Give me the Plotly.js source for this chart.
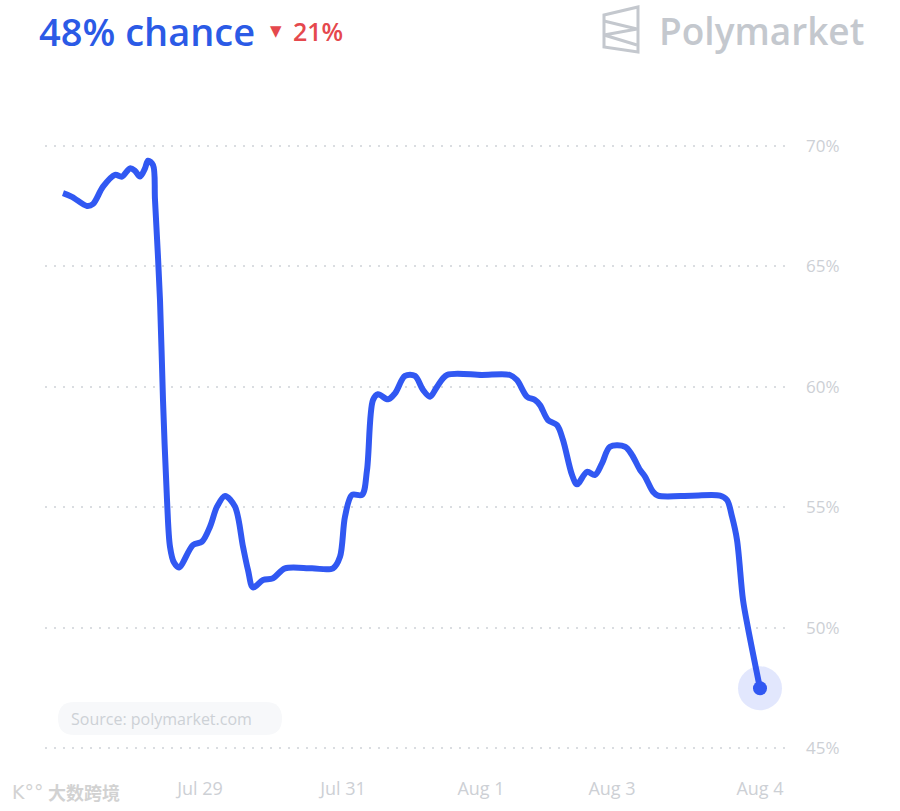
<!DOCTYPE html>
<html>
<head>
<meta charset="utf-8">
<script src="https://cdn.plot.ly/plotly-3.0.1.min.js"></script>
<style>
html,body{margin:0;padding:0;background:#fff;}
#chart{width:900px;height:811px;}
</style>
</head>
<body>
<div id="chart"></div>
<script>
// ---- data ----
// t: time position along the series (arbitrary units), v: chance in %
const timePos = [1, 10, 25, 31, 41, 53, 60, 68, 73, 78, 83, 86, 91, 93, 98, 101, 105, 108, 112, 117,
  131, 140, 148, 155, 163, 173, 181, 186, 191, 201, 211, 223, 250, 271, 278, 283, 290, 300, 305, 311,
  316, 326, 333, 343, 353, 361, 368, 375, 385, 420, 448, 455, 465, 473, 478, 486, 495, 501, 510, 515,
  525, 533, 540, 548, 563, 570, 578, 583, 591, 596, 630, 658, 665, 670, 675, 681, 686, 698];
const chance = [68.04, 67.89, 67.51, 67.59, 68.31, 68.80, 68.73, 69.07, 68.97, 68.73, 69.07, 69.39, 69.21, 67.76, 63.60, 59.45, 55.30, 53.36, 52.70, 52.50,
  53.43, 53.57, 54.19, 55.02, 55.47, 55.02, 53.36, 52.39, 51.67, 51.98, 52.05, 52.46, 52.46, 52.46, 52.94, 54.61, 55.51, 55.51, 56.54, 59.45,
  59.69, 59.48, 59.73, 60.45, 60.45, 59.87, 59.59, 60.00, 60.49, 60.49, 60.49, 60.28, 59.59, 59.45, 59.24, 58.62, 58.41, 57.79, 56.34, 55.95,
  56.47, 56.34, 56.82, 57.51, 57.51, 57.17, 56.55, 56.27, 55.64, 55.48, 55.48, 55.48, 55.30, 54.61, 53.64, 51.15, 49.98, 47.48];
const xTickPos = [138, 281, 419, 550, 698];
const xTickLabels = ["Jul 29", "Jul 31", "Aug 1", "Aug 3", "Aug 4"];
const yTickVals = [45, 50, 55, 60, 65, 70];
const yTickLabels = ["45%", "50%", "55%", "60%", "65%", "70%"];
const headline = "48% chance";
const changeText = "21%";
const brand = "Polymarket";
const sourceText = "Source: polymarket.com";
const watermark = "大数跨境";

// ---- layout helpers (pixel -> paper) ----
const PL = 45, PR = 785, PT = 144, PB = 750;
const fx = px => (px - PL) / (PR - PL);
const fy = py => (PB - py) / (PB - PT);
const P = (x, y) => fx(x).toFixed(5) + "," + fy(y).toFixed(5);

const blue = "#3158F2";
const lastX = timePos[timePos.length - 1];
const lastY = chance[chance.length - 1];

const traces = [
  {x: timePos, y: chance, type: "scatter", mode: "lines",
   line: {color: blue, width: 6, shape: "spline", smoothing: 0.9},
   hoverinfo: "skip"},
  {x: [lastX], y: [lastY], type: "scatter", mode: "markers",
   marker: {size: 44, color: "rgba(49,88,242,0.14)"}, hoverinfo: "skip"},
  {x: [lastX], y: [lastY], type: "scatter", mode: "markers",
   marker: {size: 14, color: blue}, hoverinfo: "skip"}
];

// pill path for source box
function pill(x0, y0, x1, y1) {
  const r = (y1 - y0) / 2;
  return "M" + P(x0 + r, y0) + " L" + P(x1 - r, y0) +
    " Q" + P(x1, y0) + " " + P(x1, y0 + r) +
    " Q" + P(x1, y1) + " " + P(x1 - r, y1) +
    " L" + P(x0 + r, y1) +
    " Q" + P(x0, y1) + " " + P(x0, y0 + r) +
    " Q" + P(x0, y0) + " " + P(x0 + r, y0) + " Z";
}

const gray = "#C4C8CE";
const layout = {
  width: 900, height: 811,
  margin: {l: PL, r: 900 - PR, t: PT, b: 811 - PB, pad: 0},
  paper_bgcolor: "#ffffff", plot_bgcolor: "#ffffff",
  showlegend: false,
  font: {family: "Open Sans, sans-serif"},
  xaxis: {
    range: [-17, 723], showgrid: false, zeroline: false, showline: false,
    tickmode: "array", tickvals: xTickPos, ticktext: xTickLabels,
    ticks: "", ticklabelstandoff: 26,
    tickfont: {size: 18, color: "#CDD0D5", family: "Open Sans, sans-serif"},
    fixedrange: true
  },
  yaxis: {
    range: [45 - 2 / 24.08, 70 + 2 / 24.08], side: "right",
    showgrid: true, gridcolor: "#DADDE1", gridwidth: 2, griddash: "2px,7px",
    zeroline: false, showline: false,
    tickmode: "array", tickvals: yTickVals, ticktext: yTickLabels,
    ticks: "", ticklabelstandoff: 20,
    tickfont: {size: 17, color: "#CDD0D5", family: "Open Sans, sans-serif"},
    fixedrange: true
  },
  shapes: [
    {type: "path", xref: "paper", yref: "paper", layer: "below",
     path: pill(58, 702, 282, 735), fillcolor: "#F7F8FA", line: {width: 0}},
    {type: "path", xref: "paper", yref: "paper",
     path: "M" + P(604, 15) + " L" + P(638, 7) + " L" + P(638, 52) + " L" + P(604, 47) + " Z",
     line: {color: gray, width: 3}, fillcolor: "rgba(0,0,0,0)"},
    {type: "path", xref: "paper", yref: "paper",
     path: "M" + P(604, 21) + " L" + P(637, 29) + " L" + P(604, 35) + " L" + P(637, 45),
     line: {color: gray, width: 3}}
  ],
  annotations: [
    {xref: "paper", yref: "paper", x: fx(37), y: fy(31), xanchor: "left", yanchor: "middle",
     text: headline, showarrow: false,
     font: {size: 38, color: "#2B5AE6", family: "Open Sans, sans-serif", weight: 600}},
    {xref: "paper", yref: "paper", x: fx(268), y: fy(31), xanchor: "left", yanchor: "middle",
     text: "▼", showarrow: false,
     font: {size: 15, color: "#E5484D", family: "DejaVu Sans, sans-serif"}},
    {xref: "paper", yref: "paper", x: fx(291), y: fy(31), xanchor: "left", yanchor: "middle",
     text: changeText, showarrow: false,
     font: {size: 25, color: "#E5484D", family: "Open Sans, sans-serif", weight: 600}},
    {xref: "paper", yref: "paper", x: fx(657), y: fy(31), xanchor: "left", yanchor: "middle",
     text: brand, showarrow: false,
     font: {size: 37, color: gray, family: "Open Sans, sans-serif", weight: 600}},
    {xref: "paper", yref: "paper", x: fx(69), y: fy(719), xanchor: "left", yanchor: "middle",
     text: sourceText, showarrow: false,
     font: {size: 16, color: "#CDD1D6", family: "Open Sans, sans-serif"}},
    {xref: "paper", yref: "paper", x: fx(46), y: fy(792), xanchor: "left", yanchor: "middle",
     text: watermark, showarrow: false,
     font: {size: 18, color: "#D2D2D2", family: "Noto Sans CJK SC, sans-serif", weight: 700}},
    {xref: "paper", yref: "paper", x: fx(10), y: fy(792), xanchor: "left", yanchor: "middle",
     text: "K°°", showarrow: false,
     font: {size: 19, color: "#D2D2D2", family: "DejaVu Sans, sans-serif"}}
  ]
};

Plotly.newPlot("chart", traces, layout, {staticPlot: true, displayModeBar: false});
</script>
</body>
</html>
